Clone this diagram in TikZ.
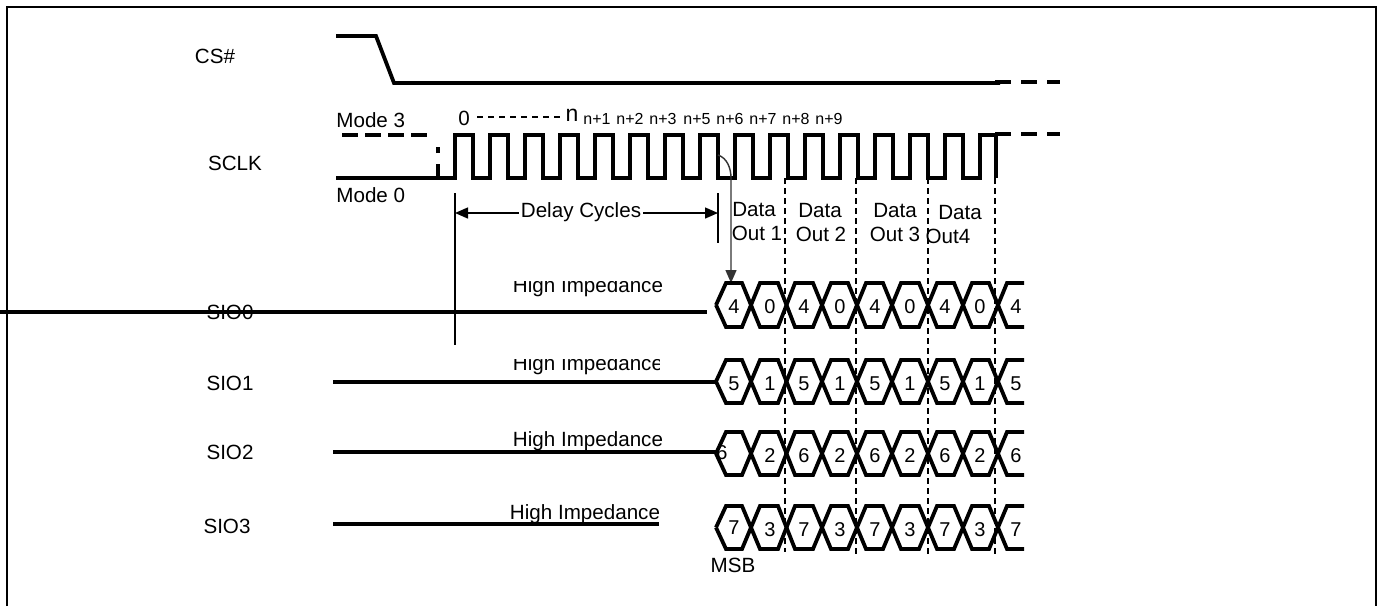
\documentclass[tikz,border=0pt]{standalone}
\usepackage{fontspec}
\setmainfont{Liberation Sans}
\usetikzlibrary{arrows.meta}

\begin{document}
\begin{tikzpicture}[
    x=0.5pt, y=-0.5pt,
    frameline/.style={draw=black, line width=1pt},
    wave/.style={draw=black, line width=1.9pt, line join=miter},
    heavy/.style={draw=black, line width=2.1pt},
    dashwave/.style={draw=black, line width=1.9pt, dash pattern=on 8pt off 5pt},
    guide/.style={draw=black, line width=0.6pt, dash pattern=on 3pt off 2pt},
    limit/.style={draw=black, line width=0.8pt},
    arrow/.style={{Triangle[length=6.5pt,width=5.5pt]}-{Triangle[length=6.5pt,width=5.5pt]}, draw=black, line width=0.7pt},
    sigtext/.style={font=\fontsize{10.3}{12}\selectfont, inner sep=0pt},
    small/.style={font=\fontsize{8}{9}\selectfont, inner sep=0pt},
    digit/.style={font=\fontsize{10}{11}\selectfont, inner sep=0pt}
]
    \useasboundingbox (0,0) rectangle (1383,606);
    % frame
    \draw[frameline] (7,606) -- (7,7) -- (1376,7) -- (1376,606);

    % signal names
    \node[sigtext] (cs) at (215,56) {CS\#};
    \node[sigtext] (sclk) at (235,163) {SCLK};
    \node[sigtext] (sio0) at (230,312) {SIO0};
    \node[sigtext] (sio1) at (230,383) {SIO1};
    \node[sigtext] (sio2) at (230,452) {SIO2};
    \node[sigtext] (sio3) at (227,526) {SIO3};
    \node[sigtext, anchor=west] (mode3) at (336,120) {Mode 3};
    \node[sigtext, anchor=west] (mode0) at (336,195) {Mode 0};

    % CS#
    \draw[wave] (336,36) -- (376,36) -- (394,83) -- (1000,83);
    \draw[dashwave] (995,82) -- (1060,82);

    % SCLK
    \draw[wave] (336,178) -- (455,178)
      \foreach \x in {455,490,...,945} { -- (\x,178) -- (\x,135) -- (\x+18,135) -- (\x+18,178) -- (\x+35,178) }
      -- (980,135) -- (996,135) -- (996,178);
    \draw[dashwave, dash pattern=on 8pt off 3.5pt] (342,135) -- (432,135);
    \draw[wave] (438,178) -- (438,164);
    \draw[wave] (438,153) -- (438,147);
    \draw[dashwave] (995,134) -- (1060,134);

    % clock numbers
    \node[sigtext] (c0) at (464,118) {0};
    \node[font=\fontsize{11.5}{12}\selectfont, inner sep=0pt] (cn) at (572,115) {n};
    \draw[draw=black, line width=0.6pt, dash pattern=on 3pt off 2.5pt] (477,117) -- (560,117);
    \foreach \x/\t in {597/1,630/2,663/3,697/5,730/6,763/7,796/8,829/9}
      \node[small] (c\t) at (\x,119) {n+\t};

    % delay
    \coordinate (dl) at (455,213);
    \coordinate (dr) at (718,213);
    \draw[limit] (455,193) -- (455,345);
    \draw[limit] (718,193) -- (718,243);
    \draw[arrow] (dl) -- (dr);
    \node[sigtext, fill=white, inner xsep=1pt] (delay) at (581,212) {Delay Cycles};

    % first data clock edge
    \draw[-{Triangle[length=6.5pt,width=5.5pt]}, draw=black!80, line width=0.7pt] (718,155) .. controls (727,158) and (731,168) .. (731,178) -- (731,283);

    % data out boundaries
    \foreach \x/\e in {785/552,856/555,928/557,995/557}
      \draw[guide] (\x,178) -- (\x,\e);
    \foreach \x/\y/\t in {754/210/Data,820/211/Data,895/211/Data,960/213/Data,757/233/Out 1,821/234/Out 2,895/234/Out 3,948/236/Out4}
      \node[sigtext] at (\x,\y) {\t};

    % idle lines
    \draw[heavy] (0,312) -- (707,312);
    \draw[heavy] (333,382) -- (716,382);
    \draw[wave] (333,452) -- (716,452);
    \draw[wave] (333,524) -- (659,524);
    \begin{scope}
      \clip (500,281) rectangle (680,300);
      \node[sigtext] (hz0) at (588,287) {High Impedance};
    \end{scope}
    \begin{scope}
      \clip (500,359) rectangle (659,378);
      \node[sigtext] (hz1) at (588,365) {High Impedance};
    \end{scope}
    \node[sigtext] (hz2) at (588,441) {High Impedance};
    \node[sigtext] (hz3) at (585,514) {High Impedance};

    % data bytes
    \foreach \t/\b/\hi/\lo in {283/327/4/0,360/403/5/1,432/475/6/2,506/549/7/3} {
      \pgfmathsetmacro{\m}{(\t+\b)/2}
      \draw[wave] (716,\m) -- (726,\t) -- (742,\t) -- (760,\b) -- (778,\b) -- (795,\t) -- (813,\t) -- (831,\b) -- (848,\b) -- (866,\t) -- (883,\t) -- (901,\b) -- (919,\b) -- (937,\t) -- (954,\t) -- (972,\b) -- (989,\b) -- (1007,\t) -- (1024,\t);
      \draw[wave] (716,\m) -- (726,\b) -- (742,\b) -- (760,\t) -- (778,\t) -- (795,\b) -- (813,\b) -- (831,\t) -- (848,\t) -- (866,\b) -- (883,\b) -- (901,\t) -- (919,\t) -- (937,\b) -- (954,\b) -- (972,\t) -- (989,\t) -- (1007,\b) -- (1024,\b);
      \foreach \x in {804,875,945,1016}
        \node[digit] at (\x,\m+2) {\hi};
      \foreach \x in {770,840,910,980}
        \node[digit] at (\x,\m+2) {\lo};
    }
    \node[digit] at (734,307) {4};
    \node[digit] at (734,384) {5};
    \node[digit] at (722,453) {6};
    \node[digit] at (734,528) {7};
    \node[sigtext] (msb) at (733,565) {MSB};
\end{tikzpicture}
\end{document}
